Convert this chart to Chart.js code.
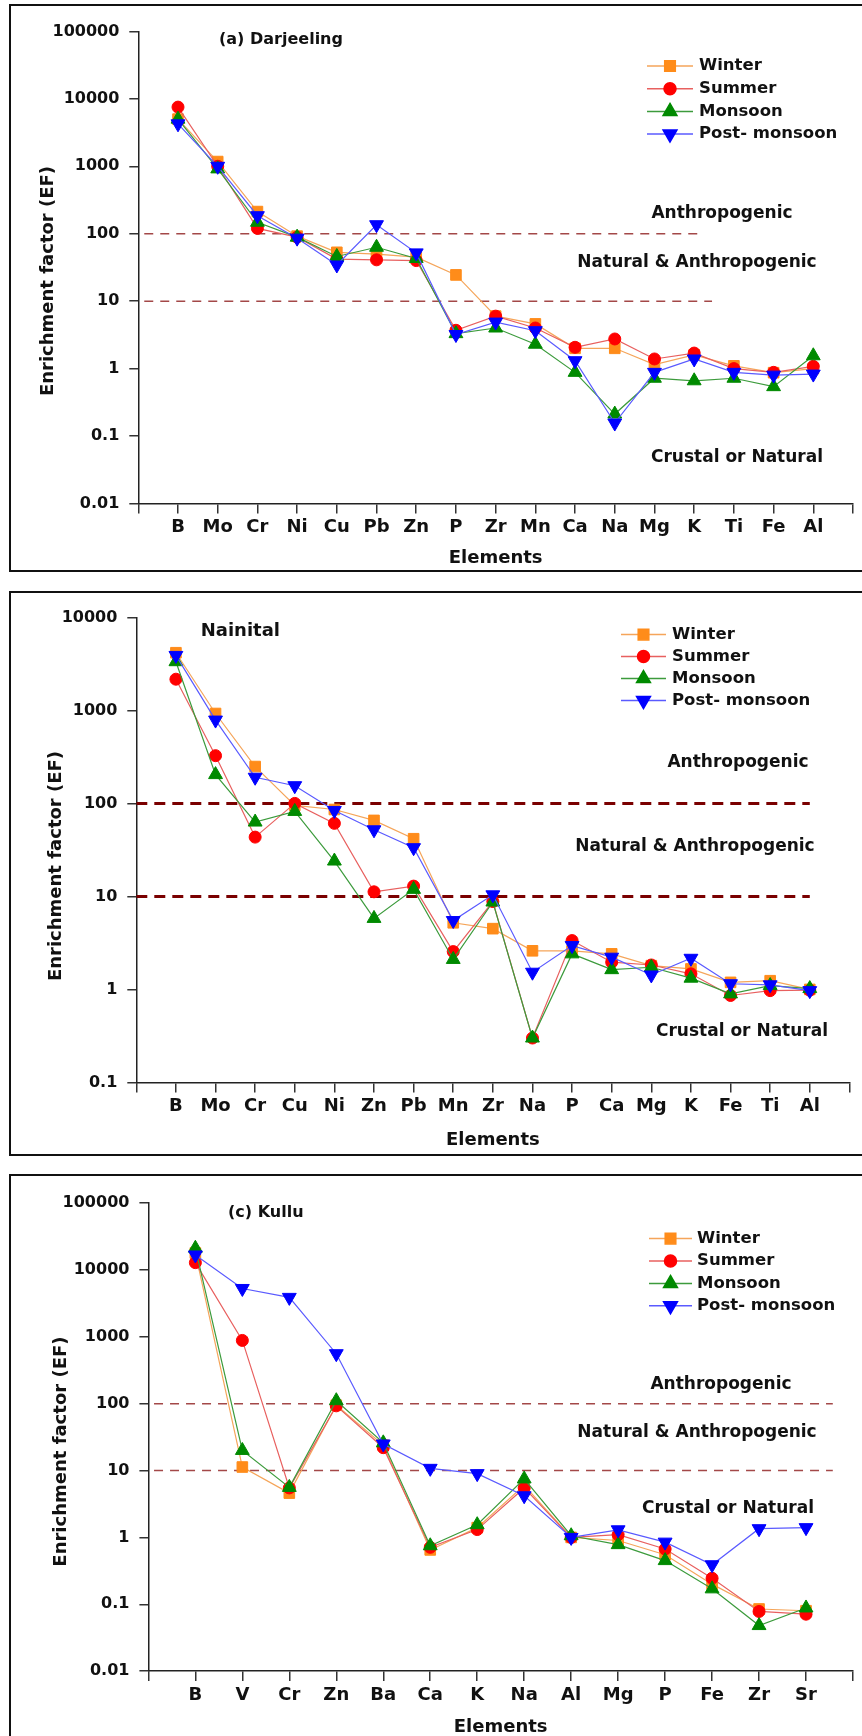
<!DOCTYPE html>
<html>
<head>
<meta charset="utf-8">
<script src="https://cdn.jsdelivr.net/npm/chart.js@4.4.1/dist/chart.umd.min.js"></script>
<style>
html, body { margin: 0; padding: 0; background: #fff; overflow: hidden; width: 862px; height: 1736px; }
.panel { position: absolute; left: 9px; width: 900px; border: 2px solid #111; box-sizing: border-box; }
canvas { position: absolute; left: 11px; }
</style>
</head>
<body>
<div class="panel" style="top:4px;height:568px"></div>
<div class="panel" style="top:591px;height:565px"></div>
<div class="panel" style="top:1174px;height:600px"></div>
<canvas id="darjeeling" width="851" height="564" style="top:6px"></canvas>
<canvas id="nainital" width="851" height="561" style="top:593px"></canvas>
<canvas id="kullu" width="851" height="566" style="top:1176px"></canvas>
<script>
// data
const seasons = ['Winter', 'Summer', 'Monsoon', 'Post- monsoon'];
const thresholds = [100, 10];

const elemsDarjeeling = ['B', 'Mo', 'Cr', 'Ni', 'Cu', 'Pb', 'Zn', 'P', 'Zr', 'Mn', 'Ca', 'Na', 'Mg', 'K', 'Ti', 'Fe', 'Al'];
const darjWinter = [5000, 1175, 213, 92, 53, 50, 45, 24.5, 6, 4.6, 2.0, 2.0, 1.15, 1.6, 1.1, 0.87, 1.0];
const darjSummer = [7540, 1000, 120, 89, 42, 41, 40, 3.7, 6.0, 4.0, 2.07, 2.75, 1.39, 1.7, 1.0, 0.88, 1.08];
const darjMonsoon = [5000, 915, 148, 89, 46, 63, 43, 3.3, 4.0, 2.3, 0.88, 0.212, 0.72, 0.66, 0.72, 0.54, 1.55];
const darjPost = [4260, 1000, 185, 86, 34.4, 136, 52, 3.2, 4.9, 3.65, 1.31, 0.156, 0.88, 1.39, 0.88, 0.8, 0.83];
const ticksDarjeeling = [0.01, 0.1, 1, 10, 100, 1000, 10000, 100000];

const elemsNainital = ['B', 'Mo', 'Cr', 'Cu', 'Ni', 'Zn', 'Pb', 'Mn', 'Zr', 'Na', 'P', 'Ca', 'Mg', 'K', 'Fe', 'Ti', 'Al'];
const nainWinter = [4170, 926, 249, 95, 86, 65.6, 41.7, 5.2, 4.5, 2.6, 2.6, 2.41, 1.8, 1.66, 1.19, 1.24, 1.0];
const nainSummer = [2165, 326, 43.4, 100, 61, 11.2, 12.9, 2.55, 8.8, 0.3, 3.35, 1.96, 1.83, 1.47, 0.86, 0.97, 0.98];
const nainMonsoon = [3340, 204, 63, 82, 24, 5.8, 11.9, 2.1, 8.7, 0.3, 2.41, 1.63, 1.73, 1.32, 0.895, 1.1, 1.02];
const nainPost = [3900, 787, 191, 155, 84, 52, 33.4, 5.5, 10.4, 1.53, 2.96, 2.22, 1.43, 2.16, 1.15, 1.12, 0.97];
const ticksNainital = [0.1, 1, 10, 100, 1000, 10000];

const elemsKullu = ['B', 'V', 'Cr', 'Zn', 'Ba', 'Ca', 'K', 'Na', 'Al', 'Mg', 'P', 'Fe', 'Zr', 'Sr'];
const kullWinter = [18000, 11.3, 4.6, 95, 24, 0.65, 1.4, 6, 1.0, 0.9, 0.55, 0.2, 0.085, 0.08];
const kullSummer = [12900, 885, 5.5, 93, 22, 0.71, 1.31, 5.5, 1.0, 1.1, 0.67, 0.245, 0.078, 0.071];
const kullMonsoon = [21200, 20, 5.6, 111, 26, 0.75, 1.55, 7.5, 1.06, 0.78, 0.45, 0.17, 0.048, 0.088];
const kullPost = [16800, 5300, 3900, 560, 25, 10.8, 9, 4.2, 1.0, 1.3, 0.85, 0.39, 1.35, 1.4];
const ticksKullu = [0.01, 0.1, 1, 10, 100, 1000, 10000, 100000];

// styles
const lineColors = ['#f5a55a', '#e8605f', '#3c9b3c', '#5a5aff'];
const markerColors = ['#ff8c1a', '#ff0000', '#008a00', '#0000ff'];
const markers = [
    { style: 'rect', radius: 7.5, rotation: 0 },
    { style: 'circle', radius: 6, rotation: 0 },
    { style: 'triangle', radius: 8, rotation: 0 },
    { style: 'triangle', radius: 8, rotation: 180 }
];
const FONT = 'DejaVu Sans';

Chart.defaults.font.family = FONT;
Chart.defaults.color = '#111';

// texts, legend and the rotated y title
const panelText = {
    id: 'panelText',
    afterDatasetsDraw(chart, args, opts) {
        const ctx = chart.ctx;
        ctx.save();
        ctx.fillStyle = '#111';
        ctx.textBaseline = 'middle';
        for (let t of opts.labels) {
            ctx.font = 'bold ' + t.size + 'px "' + FONT + '"';
            ctx.textAlign = t.align || 'center';
            ctx.fillText(t.text, t.x, t.y);
        }

        ctx.save();
        ctx.translate(opts.yTitle.x, opts.yTitle.y);
        ctx.rotate(-Math.PI / 2);
        ctx.font = 'bold 18px "' + FONT + '"';
        ctx.textAlign = 'center';
        ctx.fillText('Enrichment factor (EF)', 0, 0);
        ctx.restore();

        const lg = opts.legend;
        chart.data.datasets.forEach((ds, i) => {
            if (ds.isThreshold) return;
            const y = lg.y + i * lg.gap;
            ctx.strokeStyle = ds.borderColor;
            ctx.lineWidth = 1.5;
            ctx.beginPath();
            ctx.moveTo(lg.x0, y);
            ctx.lineTo(lg.x1, y);
            ctx.stroke();
            ctx.fillStyle = ds.pointBackgroundColor;
            ctx.strokeStyle = ds.pointBorderColor;
            Chart.helpers.drawPoint(ctx, {
                pointStyle: ds.pointStyle,
                radius: ds.pointRadius,
                rotation: ds.pointRotation,
                borderWidth: 1
            }, (lg.x0 + lg.x1) / 2, y);
            ctx.fillStyle = '#111';
            ctx.font = 'bold 16.5px "' + FONT + '"';
            ctx.textAlign = 'left';
            ctx.fillText(ds.label, lg.textX, y);
        });
        ctx.restore();
    }
};

function drawPanel(id, elements, series, yTicks, geo) {
    const ctx = document.getElementById(id).getContext('2d');
    const datasets = [];

    for (let i = 0; i < series.length; i++) {
        datasets.push({
            label: seasons[i],
            data: series[i].map((v, j) => ({ x: j + 1, y: v })),
            borderColor: lineColors[i],
            borderWidth: 1.2,
            pointStyle: markers[i].style,
            pointRadius: markers[i].radius,
            pointRotation: markers[i].rotation,
            pointBackgroundColor: markerColors[i],
            pointBorderColor: markerColors[i],
            pointBorderWidth: 1,
            order: 4 - i
        });
    }

    thresholds.forEach((t, k) => {
        datasets.push({
            label: '',
            isThreshold: true,
            data: [{ x: geo.dashFrom, y: t }, { x: geo.dashTo[k], y: t }],
            borderColor: geo.dashColor,
            borderWidth: geo.dashWidth,
            borderDash: geo.dash,
            pointRadius: 0,
            order: 10
        });
    });

    new Chart(ctx, {
        type: 'line',
        data: { datasets: datasets },
        options: {
            responsive: false,
            animation: false,
            devicePixelRatio: 1,
            layout: {
                padding: { top: geo.top, right: geo.right, bottom: geo.bottom, left: 0 }
            },
            scales: {
                x: {
                    type: 'linear',
                    min: 0,
                    max: elements.length + 1,
                    afterBuildTicks: s => {
                        s.ticks = [];
                        for (let i = 0; i <= elements.length + 1; i++) s.ticks.push({ value: i });
                    },
                    afterFit: s => { s.height = geo.xAxisHeight; },
                    ticks: {
                        autoSkip: false,
                        maxRotation: 0,
                        padding: 3,
                        color: '#111',
                        font: { size: 18, weight: 'bold' },
                        callback: v => elements[v - 1] || ''
                    },
                    grid: { drawOnChartArea: false, tickLength: 10, color: '#333', lineWidth: 1.5 },
                    border: { display: true, color: '#222', width: 1.5 },
                    title: {
                        display: true,
                        text: 'Elements',
                        color: '#111',
                        font: { size: 18, weight: 'bold' },
                        padding: { top: 0, bottom: 0 }
                    }
                },
                y: {
                    type: 'logarithmic',
                    min: yTicks[0],
                    max: yTicks[yTicks.length - 1],
                    afterBuildTicks: s => { s.ticks = yTicks.map(v => ({ value: v })); },
                    afterFit: s => { s.width = geo.yAxisWidth; },
                    ticks: {
                        padding: 10,
                        color: '#111',
                        font: { size: 16, weight: 'bold' },
                        callback: v => String(v)
                    },
                    grid: { drawOnChartArea: false, tickLength: 9, color: '#333', lineWidth: 1.5 },
                    border: { display: true, color: '#222', width: 1.5 }
                }
            },
            plugins: {
                legend: { display: false },
                tooltip: { enabled: false },
                panelText: {
                    labels: geo.labels,
                    yTitle: geo.yTitle,
                    legend: geo.legend
                }
            }
        },
        plugins: [panelText]
    });
}

drawPanel('darjeeling', elemsDarjeeling, [darjWinter, darjSummer, darjMonsoon, darjPost], ticksDarjeeling, {
    top: 25.4, right: 3, bottom: 1.2, yAxisWidth: 127.3, xAxisHeight: 65.3,
    dashFrom: 0.15, dashTo: [14.15, 14.45], dashColor: '#a34848', dashWidth: 1.5, dash: [9, 7],
    yTitle: { x: 37.3, y: 275 },
    legend: { x0: 636, x1: 682, textX: 688, y: 60, gap: 22.7 },
    labels: [
        { text: '(a) Darjeeling', x: 208, y: 34, size: 16, align: 'left' },
        { text: 'Anthropogenic', x: 711, y: 208, size: 17 },
        { text: 'Natural & Anthropogenic', x: 686, y: 256.5, size: 17 },
        { text: 'Crustal or Natural', x: 726, y: 452, size: 17 }
    ]
});

drawPanel('nainital', elemsNainital, [nainWinter, nainSummer, nainMonsoon, nainPost], ticksNainital, {
    top: 24.4, right: 12.6, bottom: 2.6, yAxisWidth: 125.3, xAxisHeight: 69,
    dashFrom: 0, dashTo: [17, 17], dashColor: '#7a0000', dashWidth: 3, dash: [11, 7],
    yTitle: { x: 45.4, y: 273 },
    legend: { x0: 610, x1: 655, textX: 661, y: 41.6, gap: 22 },
    labels: [
        { text: 'Nainital', x: 189.7, y: 38.2, size: 18, align: 'left' },
        { text: 'Anthropogenic', x: 727, y: 169.8, size: 17 },
        { text: 'Natural & Anthropogenic', x: 684, y: 253.3, size: 17 },
        { text: 'Crustal or Natural', x: 731, y: 438.5, size: 17 }
    ]
});

drawPanel('kullu', elemsKullu, [kullWinter, kullSummer, kullMonsoon, kullPost], ticksKullu, {
    top: 27.2, right: 4.4, bottom: 3.4, yAxisWidth: 137.4, xAxisHeight: 67.5,
    dashFrom: 0.12, dashTo: [14.57, 14.57], dashColor: '#a34848', dashWidth: 1.5, dash: [9, 7],
    yTitle: { x: 50.8, y: 275.6 },
    legend: { x0: 638, x1: 681, textX: 686, y: 62.6, gap: 22.4 },
    labels: [
        { text: '(c) Kullu', x: 217, y: 36.6, size: 16, align: 'left' },
        { text: 'Anthropogenic', x: 710, y: 208.8, size: 17 },
        { text: 'Natural & Anthropogenic', x: 686, y: 256.5, size: 17 },
        { text: 'Crustal or Natural', x: 717, y: 332.3, size: 17 }
    ]
});
</script>
</body>
</html>
